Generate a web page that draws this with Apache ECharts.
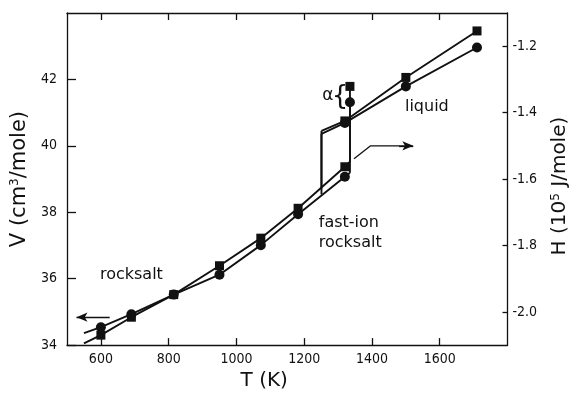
<!DOCTYPE html>
<html>
<head>
<meta charset="utf-8">
<script src="https://cdn.jsdelivr.net/npm/echarts@6/dist/echarts.min.js"></script>
<style>
  html, body { margin: 0; padding: 0; background: #fff; }
  #chart { width: 578px; height: 396px; }
</style>
</head>
<body>
<div id="chart"></div>
<script>
// Molar volume (left axis, circles) and enthalpy (right axis, squares) vs temperature.
// Solid branch: rocksalt -> fast-ion rocksalt, up to the melting jump.
const solidT      = [550, 600, 690, 815, 950, 1072, 1182, 1320, 1335];
const volSolid    = [34.36, 34.54, 34.93, 35.52, 36.12, 37.01, 37.94, 39.07, 39.19];
const enthSolid   = [-2.095, -2.070, -2.016, -1.948, -1.861, -1.778, -1.688, -1.563, -1.548];
const solidMarked = [false, true, true, true, true, true, true, true, false];

// Liquid branch (including the supercooled end at 1251 K).
const liquidT      = [1251, 1320, 1500, 1710];
const volLiquid    = [40.36, 40.69, 41.79, 42.96];
const enthLiquid   = [-1.455, -1.425, -1.294, -1.154];
const liquidMarked = [false, true, true, true];

// Freezing drop of the supercooled liquid.
const freezeT    = 1251;
const volFreeze  = [38.54, 40.36];
const enthFreeze = [-1.628, -1.455];

// Melting jump and the alpha-phase values.
const meltT     = 1335;
const alphaVol  = 41.31;
const alphaEnth = -1.321;

// Axis ticks
const tempTicks = [600, 800, 1000, 1200, 1400, 1600];
const volTicks  = [34, 36, 38, 40, 42];
const enthTicks = [-2.0, -1.8, -1.6, -1.4, -1.2];

// Phase labels, placed in (T, V) units
const phaseLabels = [
  { at: [690, 36.12],  text: 'rocksalt',           size: 16, align: 'center' },
  { at: [1243, 37.38], text: 'fast-ion\nrocksalt', size: 16, align: 'left' },
  { at: [1562, 41.18], text: 'liquid',             size: 16, align: 'center' },
  { at: [1270, 41.50], text: 'α',                  size: 17, align: 'center' },
  { at: [1306, 41.47], text: '{',                  size: 26, align: 'center' }
];

const FONT = "'DejaVu Sans Condensed', 'Liberation Sans Narrow', 'DejaVu Sans', sans-serif";
const WIDE = "'DejaVu Sans', sans-serif";
const INK = '#111';

function pts(xs, ys, marked) {
  return xs.map((x, i) => marked && !marked[i]
    ? { value: [x, ys[i]], symbol: 'none' }
    : [x, ys[i]]);
}

function lineSeries(data, yIdx, symbol, size, extra) {
  return Object.assign({
    type: 'line',
    xAxisIndex: 0,
    yAxisIndex: yIdx,
    data: data,
    symbol: symbol,
    symbolSize: size,
    showAllSymbol: true,
    lineStyle: { color: INK, width: 1.9 },
    itemStyle: { color: INK },
    silent: true,
    animation: false,
    z: 3
  }, extra || {});
}

const chart = echarts.init(document.getElementById('chart'), null, { renderer: 'canvas' });

const axisLine = { show: true, lineStyle: { color: INK, width: 1.3 } };
const plain = v => String(v);
const supRich = { s: { fontFamily: WIDE, fontSize: 12, verticalAlign: 'top', padding: [0, 0, 9, 0], color: INK } };

chart.setOption({
  animation: false,
  backgroundColor: '#fff',
  grid: { left: 67, right: 62, top: 13, bottom: 48, containLabel: false },
  xAxis: [
    {
      type: 'value', min: 500, max: 1800, position: 'bottom',
      name: 'T (K)', nameLocation: 'middle', nameGap: 23,
      nameTextStyle: { fontFamily: WIDE, fontSize: 20, color: INK, padding: [0, 46, 0, 0] },
      axisLine: axisLine,
      axisTick: { show: true, inside: true, length: 7, customValues: tempTicks, lineStyle: { color: INK, width: 1.3 } },
      axisLabel: { show: true, customValues: tempTicks, margin: 7, fontFamily: FONT, fontSize: 14, color: INK, formatter: plain },
      splitLine: { show: false }
    },
    {
      type: 'value', min: 500, max: 1800, position: 'top',
      axisLine: axisLine,
      axisTick: { show: true, inside: true, length: 7, customValues: tempTicks, lineStyle: { color: INK, width: 1.3 } },
      axisLabel: { show: false },
      splitLine: { show: false }
    }
  ],
  yAxis: [
    {
      type: 'value', min: 34, max: 44, position: 'left',
      name: 'V (cm{s|3}/mole)', nameLocation: 'middle', nameGap: 35, nameRotate: 90,
      nameTextStyle: { fontFamily: WIDE, fontSize: 21, color: INK, rich: supRich },
      axisLine: axisLine,
      axisTick: { show: true, inside: true, length: 9, customValues: volTicks, lineStyle: { color: INK, width: 1.3 } },
      axisLabel: { show: true, customValues: volTicks, margin: 10, fontFamily: FONT, fontSize: 14, color: INK, formatter: plain },
      splitLine: { show: false }
    },
    {
      type: 'value', min: -2.1, max: -1.1, position: 'right',
      name: 'H (10{s|5} J/mole)', nameLocation: 'middle', nameGap: 42, nameRotate: 90,
      nameTextStyle: { fontFamily: WIDE, fontSize: 20, color: INK, rich: supRich, padding: [0, 14, 0, 0] },
      axisLine: axisLine,
      axisTick: { show: true, inside: true, length: 5, customValues: enthTicks, lineStyle: { color: INK, width: 1.3 } },
      axisLabel: {
        show: true, customValues: enthTicks, margin: 5, fontFamily: FONT, fontSize: 14, color: INK,
        formatter: v => '-' + Math.abs(v).toFixed(1)
      },
      splitLine: { show: false }
    }
  ],
  series: [
    // Volume, solid branch (circles) with the pointer to the volume axis
    lineSeries(pts(solidT, volSolid, solidMarked), 0, 'circle', 10, {
      markLine: {
        silent: true, animation: false,
        symbol: ['arrow', 'none'], symbolSize: [7, 11],
        lineStyle: { color: INK, width: 1.3, type: 'solid' },
        label: { show: false },
        data: [[{ coord: [528, 34.84] }, { coord: [626, 34.84] }]]
      }
    }),
    // Volume, liquid branch
    lineSeries(pts(liquidT, volLiquid, liquidMarked), 0, 'circle', 10),
    // Volume, freezing drop
    lineSeries(volFreeze.map(v => [freezeT, v]), 0, 'none', 0),
    // Volume, melting jump to the alpha value
    lineSeries([{ value: [meltT, volSolid[volSolid.length - 1]], symbol: 'none' }, [meltT, alphaVol]], 0, 'circle', 10),

    // Enthalpy, solid branch (squares)
    lineSeries(pts(solidT, enthSolid, solidMarked), 1, 'rect', 9),
    // Enthalpy, liquid branch
    lineSeries(pts(liquidT, enthLiquid, liquidMarked), 1, 'rect', 9),
    // Enthalpy, freezing drop
    lineSeries(enthFreeze.map(v => [freezeT, v]), 1, 'none', 0),
    // Enthalpy, melting jump to the alpha value
    lineSeries([{ value: [meltT, enthSolid[enthSolid.length - 1]], symbol: 'none' }, [meltT, alphaEnth]], 1, 'rect', 9),

    // Pointer to the enthalpy axis
    lineSeries([[1347, -1.539], [1396, -1.500], [1520, -1.500]], 1, 'none', 0, {
      lineStyle: { color: INK, width: 1.3 },
      markLine: {
        silent: true, animation: false,
        symbol: ['none', 'arrow'], symbolSize: [7, 11],
        lineStyle: { color: INK, width: 1.3, type: 'solid' },
        label: { show: false },
        data: [[{ coord: [1480, -1.500] }, { coord: [1522, -1.500] }]]
      }
    })
  ]
});

// Phase labels, positioned through the chart's own axes
chart.setOption({
  graphic: phaseLabels.map(l => {
    const p = chart.convertToPixel({ xAxisIndex: 0, yAxisIndex: 0 }, l.at);
    return {
      type: 'text', x: p[0], y: p[1], silent: true, z: 10,
      style: {
        text: l.text, fill: INK, font: l.size + 'px ' + WIDE,
        align: l.align, verticalAlign: 'middle', lineHeight: 20
      }
    };
  })
});
</script>
</body>
</html>
